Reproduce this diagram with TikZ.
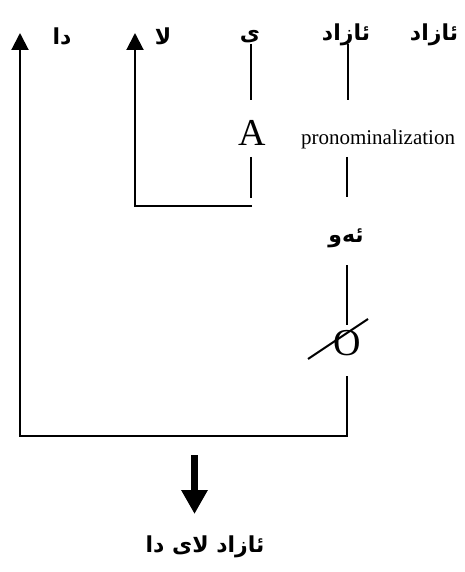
\documentclass[tikz,border=0pt]{standalone}
\usepackage{fontspec}
\setmainfont{Liberation Serif}
\newfontfamily\arfont[Script=Arabic]{DejaVu Sans}
\TeXXeTstate=1
\usetikzlibrary{arrows.meta}
\tikzset{
  ar/.style={inner sep=0pt, font=\arfont\bfseries\fontsize{22}{26}\selectfont},
  big/.style={inner sep=0pt, font=\fontsize{38}{40}\selectfont},
  ln/.style={line width=2pt},
  up/.style={ln, -{Triangle[length=17pt,width=17pt]}},
  bigarrow/.style={line width=7.5pt, -{Triangle[length=24pt,width=25pt]}}
}
\begin{document}
\begin{tikzpicture}[x=1pt,y=-1pt]
\useasboundingbox (0,0) rectangle (465,572);
% top words
\node[ar] (w1) at (434,35) {\beginR ئازاد\endR};
\node[ar] (w2) at (346,35) {\beginR ئازاد\endR};
\node[ar] (w3) at (250,37) {\beginR ی\endR};
\node[ar] (w4) at (163,36) {\beginR لا\endR};
\node[ar] (w5) at (62,36) {\beginR دا\endR};
% middle labels
\node[big] (A) at (252,133) {A};
\node[inner sep=0pt, font=\fontsize{21}{24}\selectfont] (pron) at (378,139) {pronominalization};
\node[ar] (eo) at (346,238) {\beginR ئەو\endR};
\node[big] (O) at (347,343) {O};
\node[ar] (res) at (205,547) {\beginR ئازاد لای دا\endR};
% coordinates
\coordinate (a1) at (251,44);
\coordinate (a2) at (251,100);
\coordinate (b1) at (348,44);
\coordinate (b2) at (348,100);
\coordinate (c1) at (251,157);
\coordinate (c2) at (251,198);
\coordinate (d1) at (347,157);
\coordinate (d2) at (347,197);
\coordinate (e1) at (347,265);
\coordinate (e2) at (347,325);
\coordinate (f1) at (347,376);
\coordinate (f2) at (347,436);
\coordinate (f3) at (20,436);
\coordinate (f4) at (20,33);
\coordinate (g1) at (252,206);
\coordinate (g2) at (135,206);
\coordinate (g3) at (135,33);
\coordinate (s1) at (308,359);
\coordinate (s2) at (368,319);
\coordinate (h1) at (194.5,455);
\coordinate (h2) at (194.5,514);
% lines
\draw[ln] (a1) -- (a2);
\draw[ln] (b1) -- (b2);
\draw[ln] (c1) -- (c2);
\draw[ln] (d1) -- (d2);
\draw[ln] (e1) -- (e2);
\draw[ln] (s1) -- (s2);
\draw[up] (g1) -- (g2) -- (g3);
\draw[up] (f1) -- (f2) -- (f3) -- (f4);
\draw[bigarrow] (h1) -- (h2);
\end{tikzpicture}
\end{document}
